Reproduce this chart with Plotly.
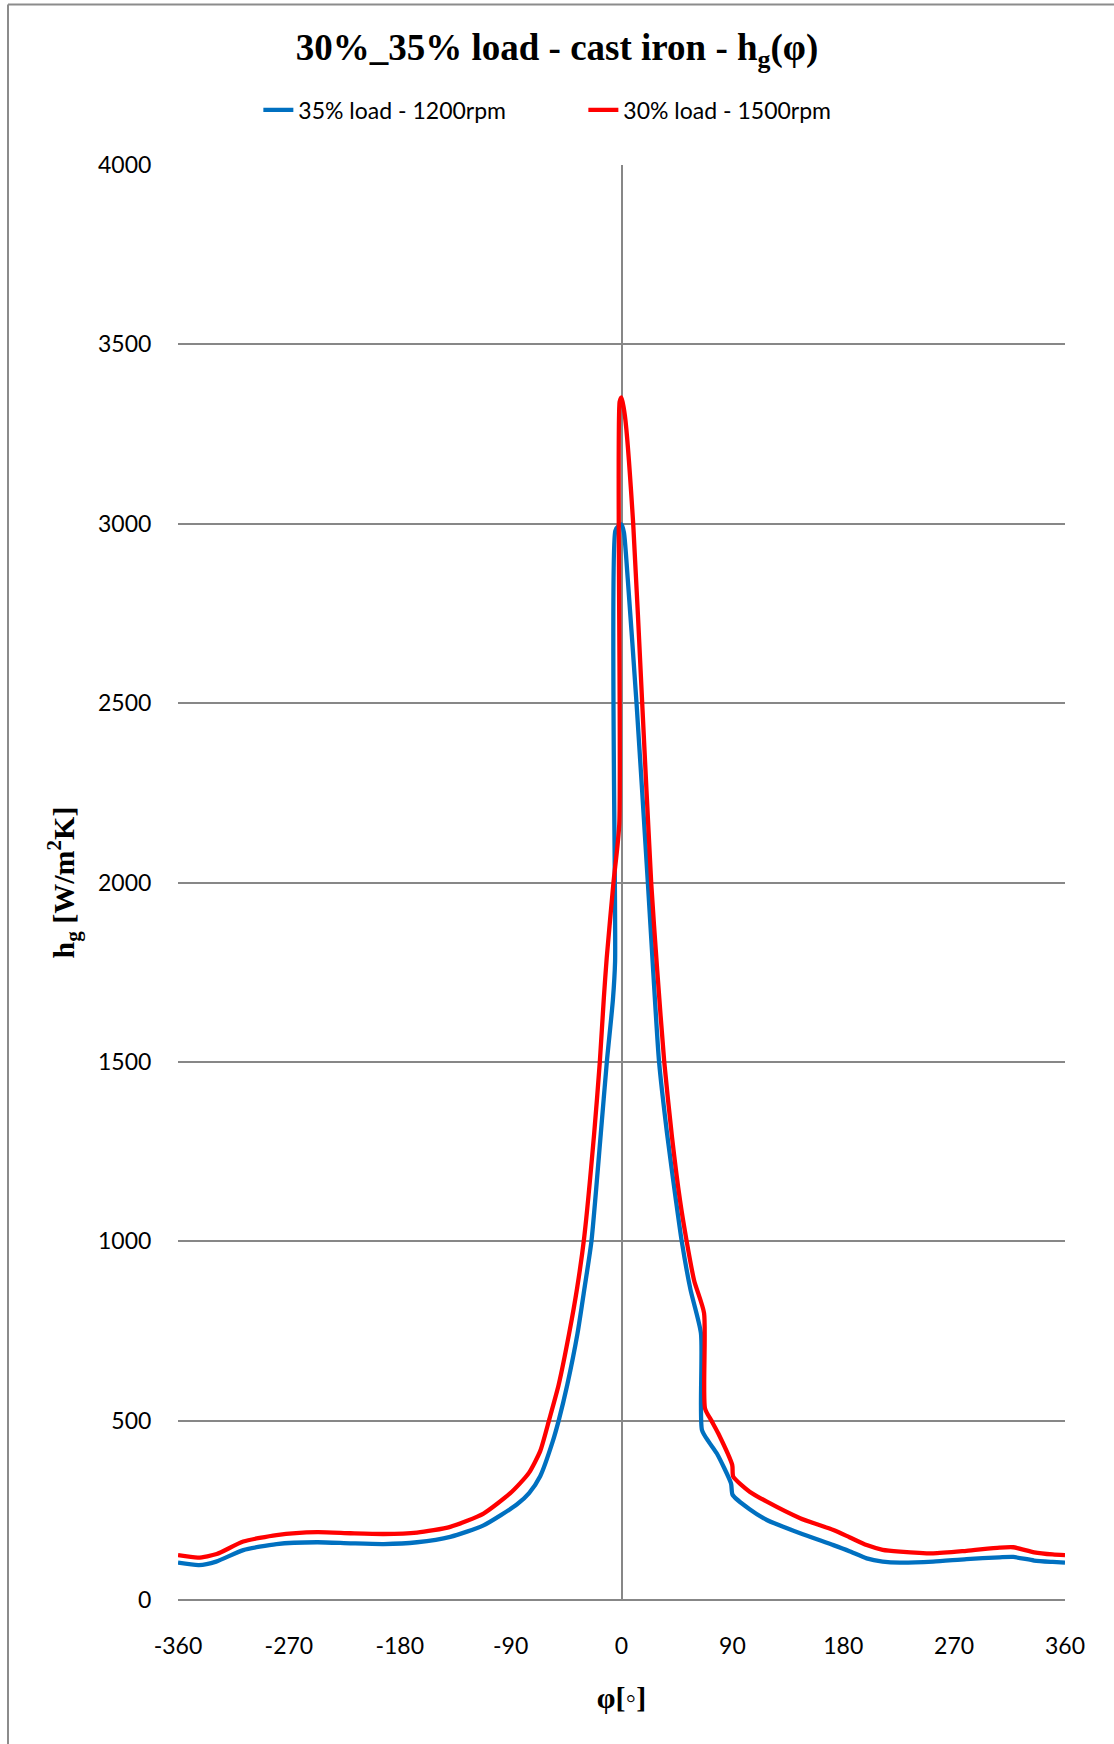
import plotly.graph_objects as go

# Crank angle [deg] and gas-side heat transfer coefficient [W/m2K]
phi_35 = [-360, -343, -329, -307, -280, -247, -220, -193, -166, -139, -112, -85,
          -75, -66, -56, -51, -44, -35.7, -30, -24.4, -16.8, -11.9, -7, -5.2,
          -5.0, -2, 0, 2, 5, 12.2, 21.4, 25.7, 30.5, 37, 44.2, 48.9, 56, 64.5,
          65.3, 71, 77.3, 88.9, 90.2, 104, 118, 145, 172, 185, 199, 212, 226,
          253, 280, 307, 318, 335, 350, 360]
hg_35 = [104, 97, 107, 139, 156, 161, 158, 156, 161, 176, 208, 266,
         298, 345, 440, 500, 600, 743, 870, 1000, 1300, 1500, 1672, 1780,
         2980, 2995, 2998, 2975, 2850, 2500, 2000, 1755, 1500, 1300, 1114, 1000, 865, 743,
         474, 440, 409, 325, 293, 253, 223, 186, 153, 136, 116, 107, 104,
         107, 114, 119, 120, 110, 106, 104]

phi_30 = [-360, -343.6, -328.6, -307, -280, -247, -220, -193, -166, -139, -112, -90.5,
          -82.4, -75, -66, -58.5, -51, -42.5, -36, -30.3, -22.2, -17.6, -14.3, -12,
          -6.5, -1.8, -1.5, 0, 2.8, 9.5, 16.8, 24.1, 29, 34.7, 41, 47.5, 52.9, 59,
          67.0, 67.8, 73, 78.6, 89.9, 90.7, 104, 118, 145, 172, 185, 199, 212, 226,
          253, 280, 307, 318, 335, 350, 360]
hg_30 = [125, 118, 128, 163, 181, 189, 186, 184, 188, 204, 241, 297,
         325, 355, 415, 505, 600, 743, 870, 1010, 1300, 1500, 1680, 1790,
         2000, 2163, 3340, 3352, 3300, 3000, 2500, 2000, 1755, 1500, 1290, 1114, 1000, 890,
         800, 534, 500, 464, 376, 344, 302, 274, 228, 195, 175, 153, 140, 135,
         130, 137, 146, 147, 133, 127, 125]

series_names = ["35% load - 1200rpm", "30% load - 1500rpm"]
series_colors = ["#0070C0", "#FF0000"]

x_ticks = [-360, -270, -180, -90, 0, 90, 180, 270, 360]
y_ticks = [0, 500, 1000, 1500, 2000, 2500, 3000, 3500, 4000]

W, H = 1114, 1744
L, R, T, B = 178, 49, 165, 144
plot_w, plot_h = W - L - R, H - T - B

GRID = "#878787"
TICK_FONT = dict(family="Lato, 'Open Sans', sans-serif", size=23, color="#000000")
SERIF = "'Liberation Serif', 'Times New Roman', serif"

fig = go.Figure()
for xs, ys, name, col in [(phi_35, hg_35, series_names[0], series_colors[0]),
                          (phi_30, hg_30, series_names[1], series_colors[1])]:
    fig.add_trace(go.Scatter(x=xs, y=ys, mode="lines", name=name,
                             line=dict(color=col, width=4.3, shape="spline", smoothing=0.6)))

fig.update_layout(
    width=W, height=H,
    margin=dict(l=L, r=R, t=T, b=B, pad=0),
    paper_bgcolor="#FFFFFF", plot_bgcolor="#FFFFFF",
    title=dict(text="<b>30%_35% load - cast iron - h<sub>g</sub>(φ)</b>",
               font=dict(family=SERIF, size=37, color="#000000"),
               x=0.5, xanchor="center", xref="container",
               y=1 - 47 / H, yanchor="middle", yref="container"),
    legend=dict(orientation="h", font=TICK_FONT,
                x=0.457, xanchor="center", xref="paper",
                y=1 - 110 / H, yanchor="middle", yref="container",
                entrywidth=280, entrywidthmode="pixels",
                bgcolor="rgba(0,0,0,0)", traceorder="normal"),
    showlegend=True,
)

fig.update_xaxes(range=[-360, 360], tickvals=x_ticks, ticktext=[str(v) for v in x_ticks],
                 showgrid=False, zeroline=True, zerolinecolor=GRID, zerolinewidth=1.5,
                 showline=False, ticks="outside", ticklen=25, tickcolor="rgba(0,0,0,0)",
                 tickfont=TICK_FONT,
                 title=dict(text="<b>φ[◦]</b>", font=dict(family=SERIF, size=30, color="#000000"),
                            standoff=29))
fig.update_yaxes(range=[0, 4000], tickvals=y_ticks, ticktext=[str(v) for v in y_ticks],
                 showgrid=True, gridcolor=GRID, gridwidth=1.5,
                 zeroline=True, zerolinecolor=GRID, zerolinewidth=1.5,
                 showline=False, ticks="outside", ticklen=21, tickcolor="rgba(0,0,0,0)",
                 tickfont=TICK_FONT,
                 title=dict(text="<b>h<sub>g</sub> [W/m<sup>2</sup>K]</b>",
                            font=dict(family=SERIF, size=30, color="#000000"),
                            standoff=14))

# Frame around the chart (top and left edges)
def px_x(px):
    return (px - L) / plot_w

def px_y(py):
    return (H - B - py) / plot_h

border = dict(color="#8C8C8C", width=2)
fig.add_shape(type="line", xref="paper", yref="paper",
              x0=px_x(8), x1=px_x(W + 2), y0=px_y(4.5), y1=px_y(4.5), line=border)
fig.add_shape(type="line", xref="paper", yref="paper",
              x0=px_x(8), x1=px_x(8), y0=px_y(4.5), y1=px_y(H + 2), line=border)

fig.write_html("out.html")
